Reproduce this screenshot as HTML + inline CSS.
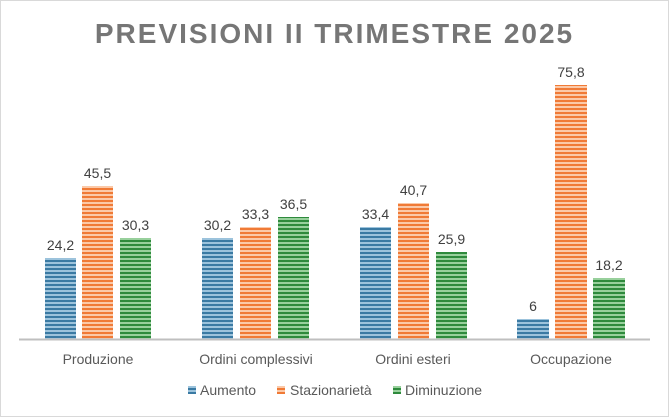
<!DOCTYPE html>
<html><head><meta charset="utf-8"><style>
html,body{margin:0;padding:0;background:#fff;}
svg{display:block;font-family:"Liberation Sans",sans-serif;}
</style></head><body>
<svg width="669" height="417" viewBox="0 0 669 417" xmlns="http://www.w3.org/2000/svg">
<defs>
<pattern id="pb" width="4" height="4" patternUnits="userSpaceOnUse"><rect width="4" height="4" fill="#9cc3dc"/><rect width="4" height="2" fill="#3a7aa3"/></pattern>
<pattern id="po" width="4" height="4" patternUnits="userSpaceOnUse"><rect width="4" height="4" fill="#fbc9a8"/><rect width="4" height="2" fill="#f07a36"/></pattern>
<pattern id="pg" width="4" height="4" patternUnits="userSpaceOnUse"><rect width="4" height="4" fill="#98d09c"/><rect width="4" height="2" fill="#2e8a3c"/></pattern>
</defs>
<rect x="0.5" y="0.5" width="668" height="416" fill="#fff" stroke="#d9d9d9"/>
<text x="334.5" y="43" text-anchor="middle" font-size="28" font-weight="bold" fill="#767676" letter-spacing="2">PREVISIONI II TRIMESTRE 2025</text>
<g font-size="14" fill="#404040" text-anchor="middle">
<!-- Produzione -->
<rect x="45" y="258" width="31" height="81" fill="url(#pb)"/>
<rect x="82" y="186" width="31" height="153" fill="url(#po)"/>
<rect x="120" y="238" width="31" height="101" fill="url(#pg)"/>
<text x="60.5" y="250">24,2</text><text x="97.5" y="178">45,5</text><text x="135.5" y="230">30,3</text>
<!-- Ordini complessivi -->
<rect x="202" y="238" width="31" height="101" fill="url(#pb)"/>
<rect x="240" y="227" width="31" height="112" fill="url(#po)"/>
<rect x="278" y="217" width="31" height="122" fill="url(#pg)"/>
<text x="217.5" y="230">30,2</text><text x="255.5" y="219">33,3</text><text x="293.5" y="209">36,5</text>
<!-- Ordini esteri -->
<rect x="360" y="227" width="31" height="112" fill="url(#pb)"/>
<rect x="398" y="203" width="31" height="136" fill="url(#po)"/>
<rect x="436" y="252" width="31" height="87" fill="url(#pg)"/>
<text x="375.5" y="219">33,4</text><text x="413.5" y="195">40,7</text><text x="451.5" y="244">25,9</text>
<!-- Occupazione -->
<rect x="517" y="319" width="32" height="20" fill="url(#pb)"/>
<rect x="555" y="85" width="32" height="254" fill="url(#po)"/>
<rect x="593" y="278" width="32" height="61" fill="url(#pg)"/>
<text x="533" y="311">6</text><text x="571" y="77">75,8</text><text x="609" y="270">18,2</text>
</g>
<line x1="19" y1="339.5" x2="650" y2="339.5" stroke="#bfbfbf" stroke-width="2"/>
<g font-size="14" fill="#595959" text-anchor="middle">
<text x="98" y="364">Produzione</text>
<text x="256" y="364">Ordini complessivi</text>
<text x="413" y="364">Ordini esteri</text>
<text x="571" y="364">Occupazione</text>
</g>
<g font-size="14" fill="#595959">
<rect x="188" y="386" width="8" height="8" fill="url(#pb)"/><text x="200" y="395">Aumento</text>
<rect x="277" y="386" width="8" height="8" fill="url(#po)"/><text x="290" y="395">Stazionarietà</text>
<rect x="393" y="386" width="8" height="8" fill="url(#pg)"/><text x="405" y="395">Diminuzione</text>
</g>
</svg>
</body></html>
